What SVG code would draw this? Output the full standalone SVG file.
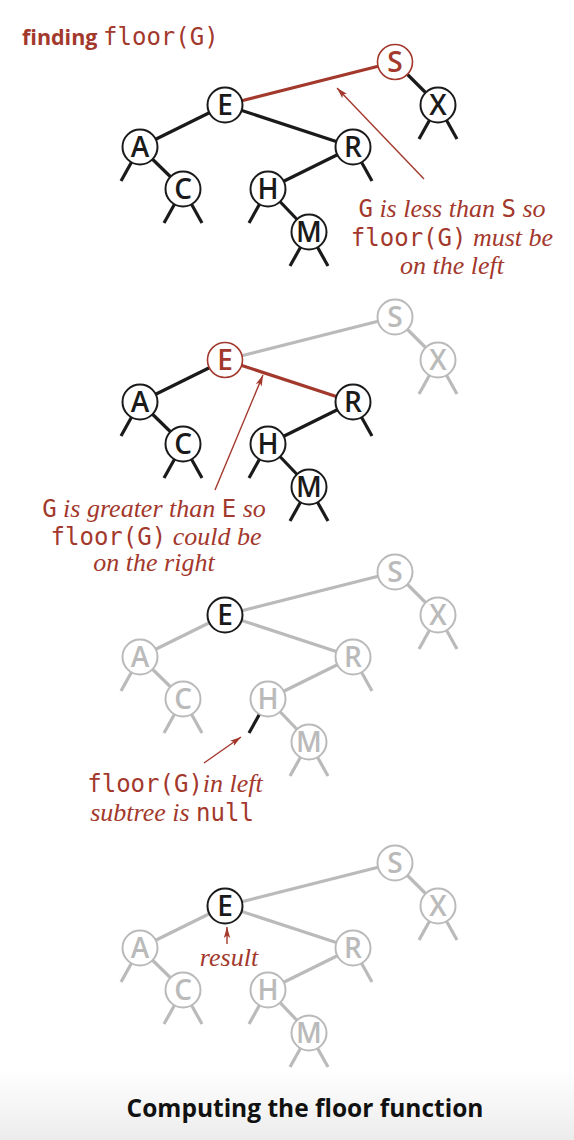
<svg xmlns="http://www.w3.org/2000/svg" width="574" height="1140" viewBox="0 0 574 1140">
<style>
.e{stroke-width:3.2;fill:none}
.k{stroke:#1a1a1a}
.g{stroke:#bababa}
.r{stroke:#a3382c}
.n circle{fill:#fff;stroke-width:2}
.n text{font-family:"Open Sans","DejaVu Sans",sans-serif;font-size:28px;font-weight:600;text-anchor:middle}
.nk circle{stroke:#1a1a1a}.nk text{fill:#1a1a1a}
.ng circle{stroke:#bababa}.ng text{fill:#bababa}
.nr circle{stroke:#a3382c;stroke-width:1.6}.nr text{fill:#a3382c}
.ann{font-family:"Liberation Serif","Times New Roman",serif;font-style:italic;font-size:26px;fill:#a3382c}
.mono{font-family:"DejaVu Sans Mono","Liberation Mono",monospace;font-style:normal;font-weight:400;font-size:24px}
.arr{stroke:#a3382c;stroke-width:1.4;fill:none;marker-end:url(#ah)}
</style>
<defs>
<marker id="ah" markerUnits="userSpaceOnUse" markerWidth="12" markerHeight="8" refX="11" refY="4" orient="auto">
<path d="M0,0.8 L11,4 L0,7.2 L2.5,4 Z" fill="#a3382c"/>
</marker>
<linearGradient id="bg" x1="0" y1="0" x2="0" y2="1">
<stop offset="0" stop-color="#ffffff"/>
<stop offset="1" stop-color="#ececec"/>
</linearGradient>
</defs>
<rect x="0" y="0" width="574" height="1140" fill="#fff"/>
<rect x="0" y="1070" width="574" height="70" fill="url(#bg)"/>

<text id="title" x="22" y="45" fill="#a3382c" style="font-family:'Open Sans','DejaVu Sans',sans-serif;font-weight:700;font-size:21.5px">finding <tspan class="mono">floor(G)</tspan></text>

<!-- Panel 1 -->
<g id="panel1">
<g id="p1-connectors">
<line class="e r" x1="225" y1="105" x2="395" y2="62"/>
<line class="e k" x1="395" y1="62" x2="438" y2="105"/>
<line class="e k" x1="225" y1="105" x2="140" y2="147"/>
<line class="e k" x1="225" y1="105" x2="353" y2="147"/>
<line class="e k" x1="140" y1="147" x2="183" y2="189"/>
<line class="e k" x1="353" y1="147" x2="268" y2="189"/>
<line class="e k" x1="268" y1="189" x2="309" y2="232"/>
<line class="e k" x1="140" y1="147" x2="121" y2="181"/>
<line class="e k" x1="183" y1="189" x2="164" y2="223"/>
<line class="e k" x1="183" y1="189" x2="202" y2="223"/>
<line class="e k" x1="268" y1="189" x2="249" y2="223"/>
<line class="e k" x1="309" y1="232" x2="290" y2="266"/>
<line class="e k" x1="309" y1="232" x2="328" y2="266"/>
<line class="e k" x1="353" y1="147" x2="372" y2="181"/>
<line class="e k" x1="438" y1="105" x2="419" y2="139"/>
<line class="e k" x1="438" y1="105" x2="457" y2="139"/>
<line class="arr" x1="424" y1="179" x2="337" y2="88"/>
</g>
<g id="p1-S" class="n nr"><circle cx="395" cy="62" r="17.5"/><text x="395" y="72">S</text></g>
<g id="p1-E" class="n nk"><circle cx="225" cy="105" r="17.5"/><text x="225" y="115">E</text></g>
<g id="p1-X" class="n nk"><circle cx="438" cy="105" r="17.5"/><text x="438" y="115">X</text></g>
<g id="p1-A" class="n nk"><circle cx="140" cy="147" r="17.5"/><text x="140" y="157">A</text></g>
<g id="p1-R" class="n nk"><circle cx="353" cy="147" r="17.5"/><text x="353" y="157">R</text></g>
<g id="p1-C" class="n nk"><circle cx="183" cy="189" r="17.5"/><text x="183" y="199">C</text></g>
<g id="p1-H" class="n nk"><circle cx="268" cy="189" r="17.5"/><text x="268" y="199">H</text></g>
<g id="p1-M" class="n nk"><circle cx="309" cy="232" r="17.5"/><text x="309" y="242">M</text></g>
<text class="ann" text-anchor="middle"><tspan x="452" y="217"><tspan class="mono">G</tspan> is less than <tspan class="mono">S</tspan> so</tspan><tspan x="452" y="246"><tspan class="mono">floor(G)</tspan> must be</tspan><tspan x="452" y="274">on the left</tspan></text>
</g>

<!-- Panel 2 -->
<g id="panel2">
<g id="p2-connectors" transform="translate(0,255)">
<line class="e g" x1="225" y1="105" x2="395" y2="62"/>
<line class="e g" x1="395" y1="62" x2="438" y2="105"/>
<line class="e k" x1="225" y1="105" x2="140" y2="147"/>
<line class="e r" x1="225" y1="105" x2="353" y2="147"/>
<line class="e k" x1="140" y1="147" x2="183" y2="189"/>
<line class="e k" x1="353" y1="147" x2="268" y2="189"/>
<line class="e k" x1="268" y1="189" x2="309" y2="232"/>
<line class="e k" x1="140" y1="147" x2="121" y2="181"/>
<line class="e k" x1="183" y1="189" x2="164" y2="223"/>
<line class="e k" x1="183" y1="189" x2="202" y2="223"/>
<line class="e k" x1="268" y1="189" x2="249" y2="223"/>
<line class="e k" x1="309" y1="232" x2="290" y2="266"/>
<line class="e k" x1="309" y1="232" x2="328" y2="266"/>
<line class="e k" x1="353" y1="147" x2="372" y2="181"/>
<line class="e g" x1="438" y1="105" x2="419" y2="139"/>
<line class="e g" x1="438" y1="105" x2="457" y2="139"/>
</g>
<g transform="translate(0,255)">
<g id="p2-S" class="n ng"><circle cx="395" cy="62" r="17.5"/><text x="395" y="72">S</text></g>
<g id="p2-E" class="n nr"><circle cx="225" cy="105" r="17.5"/><text x="225" y="115">E</text></g>
<g id="p2-X" class="n ng"><circle cx="438" cy="105" r="17.5"/><text x="438" y="115">X</text></g>
<g id="p2-A" class="n nk"><circle cx="140" cy="147" r="17.5"/><text x="140" y="157">A</text></g>
<g id="p2-R" class="n nk"><circle cx="353" cy="147" r="17.5"/><text x="353" y="157">R</text></g>
<g id="p2-C" class="n nk"><circle cx="183" cy="189" r="17.5"/><text x="183" y="199">C</text></g>
<g id="p2-H" class="n nk"><circle cx="268" cy="189" r="17.5"/><text x="268" y="199">H</text></g>
<g id="p2-M" class="n nk"><circle cx="309" cy="232" r="17.5"/><text x="309" y="242">M</text></g>
</g>
<line class="arr" x1="215" y1="490" x2="263" y2="375"/>
<text class="ann" text-anchor="middle"><tspan x="154" y="517"><tspan class="mono">G</tspan> is greater than <tspan class="mono">E</tspan> so</tspan><tspan x="156" y="545"><tspan class="mono">floor(G)</tspan> could be</tspan><tspan x="154" y="571">on the right</tspan></text>
</g>

<!-- Panel 3 -->
<g id="panel3">
<g id="p3-connectors" transform="translate(0,510)">
<line class="e g" x1="225" y1="105" x2="395" y2="62"/>
<line class="e g" x1="395" y1="62" x2="438" y2="105"/>
<line class="e g" x1="225" y1="105" x2="140" y2="147"/>
<line class="e g" x1="225" y1="105" x2="353" y2="147"/>
<line class="e g" x1="140" y1="147" x2="183" y2="189"/>
<line class="e g" x1="353" y1="147" x2="268" y2="189"/>
<line class="e g" x1="268" y1="189" x2="309" y2="232"/>
<line class="e g" x1="140" y1="147" x2="121" y2="181"/>
<line class="e g" x1="183" y1="189" x2="164" y2="223"/>
<line class="e g" x1="183" y1="189" x2="202" y2="223"/>
<line class="e k" x1="268" y1="189" x2="249" y2="223"/>
<line class="e g" x1="309" y1="232" x2="290" y2="266"/>
<line class="e g" x1="309" y1="232" x2="328" y2="266"/>
<line class="e g" x1="353" y1="147" x2="372" y2="181"/>
<line class="e g" x1="438" y1="105" x2="419" y2="139"/>
<line class="e g" x1="438" y1="105" x2="457" y2="139"/>
</g>
<g transform="translate(0,510)">
<g id="p3-S" class="n ng"><circle cx="395" cy="62" r="17.5"/><text x="395" y="72">S</text></g>
<g id="p3-E" class="n nk"><circle cx="225" cy="105" r="17.5"/><text x="225" y="115">E</text></g>
<g id="p3-X" class="n ng"><circle cx="438" cy="105" r="17.5"/><text x="438" y="115">X</text></g>
<g id="p3-A" class="n ng"><circle cx="140" cy="147" r="17.5"/><text x="140" y="157">A</text></g>
<g id="p3-R" class="n ng"><circle cx="353" cy="147" r="17.5"/><text x="353" y="157">R</text></g>
<g id="p3-C" class="n ng"><circle cx="183" cy="189" r="17.5"/><text x="183" y="199">C</text></g>
<g id="p3-H" class="n ng"><circle cx="268" cy="189" r="17.5"/><text x="268" y="199">H</text></g>
<g id="p3-M" class="n ng"><circle cx="309" cy="232" r="17.5"/><text x="309" y="242">M</text></g>
</g>
<line class="arr" x1="204" y1="763" x2="241" y2="737"/>
<text class="ann" text-anchor="middle"><tspan x="175" y="792"><tspan class="mono">floor(G)</tspan>in left</tspan><tspan x="172" y="821">subtree is <tspan class="mono">null</tspan></tspan></text>
</g>

<!-- Panel 4 -->
<g id="panel4">
<g id="p4-connectors" transform="translate(0,801)">
<line class="e g" x1="225" y1="105" x2="395" y2="62"/>
<line class="e g" x1="395" y1="62" x2="438" y2="105"/>
<line class="e g" x1="225" y1="105" x2="140" y2="147"/>
<line class="e g" x1="225" y1="105" x2="353" y2="147"/>
<line class="e g" x1="140" y1="147" x2="183" y2="189"/>
<line class="e g" x1="353" y1="147" x2="268" y2="189"/>
<line class="e g" x1="268" y1="189" x2="309" y2="232"/>
<line class="e g" x1="140" y1="147" x2="121" y2="181"/>
<line class="e g" x1="183" y1="189" x2="164" y2="223"/>
<line class="e g" x1="183" y1="189" x2="202" y2="223"/>
<line class="e g" x1="268" y1="189" x2="249" y2="223"/>
<line class="e g" x1="309" y1="232" x2="290" y2="266"/>
<line class="e g" x1="309" y1="232" x2="328" y2="266"/>
<line class="e g" x1="353" y1="147" x2="372" y2="181"/>
<line class="e g" x1="438" y1="105" x2="419" y2="139"/>
<line class="e g" x1="438" y1="105" x2="457" y2="139"/>
</g>
<g transform="translate(0,801)">
<g id="p4-S" class="n ng"><circle cx="395" cy="62" r="17.5"/><text x="395" y="72">S</text></g>
<g id="p4-E" class="n nk"><circle cx="225" cy="105" r="17.5"/><text x="225" y="115">E</text></g>
<g id="p4-X" class="n ng"><circle cx="438" cy="105" r="17.5"/><text x="438" y="115">X</text></g>
<g id="p4-A" class="n ng"><circle cx="140" cy="147" r="17.5"/><text x="140" y="157">A</text></g>
<g id="p4-R" class="n ng"><circle cx="353" cy="147" r="17.5"/><text x="353" y="157">R</text></g>
<g id="p4-C" class="n ng"><circle cx="183" cy="189" r="17.5"/><text x="183" y="199">C</text></g>
<g id="p4-H" class="n ng"><circle cx="268" cy="189" r="17.5"/><text x="268" y="199">H</text></g>
<g id="p4-M" class="n ng"><circle cx="309" cy="232" r="17.5"/><text x="309" y="242">M</text></g>
</g>
<line class="arr" x1="227" y1="944" x2="227" y2="927"/>
<text class="ann" x="229" y="966" text-anchor="middle">result</text>
</g>

<text id="caption" x="305" y="1117" text-anchor="middle" fill="#111" style="font-family:'Open Sans','DejaVu Sans',sans-serif;font-weight:700;font-size:24.5px">Computing the floor function</text>
</svg>
